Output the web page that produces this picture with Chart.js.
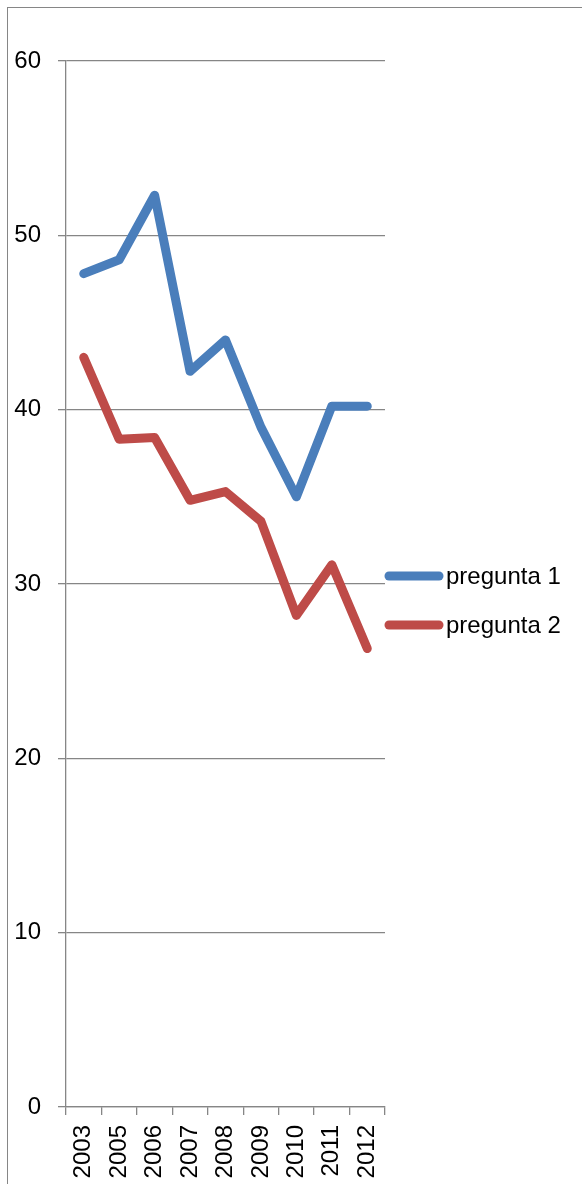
<!DOCTYPE html>
<html>
<head>
<meta charset="utf-8">
<script src="https://cdn.jsdelivr.net/npm/chart.js@4"></script>
<style>
  html, body { margin: 0; padding: 0; background: #fff; overflow: hidden; }
  #frame { position: absolute; left: 7px; top: 7px; width: 700px; height: 1300px; border: 1px solid #868686; }
  #wrap { position: absolute; left: 0; top: 0; width: 582px; height: 1184px; }
</style>
</head>
<body>
<div id="frame"></div>
<div id="wrap"><canvas id="chart"></canvas></div>
<script>
const years = ['2003', '2005', '2006', '2007', '2008', '2009', '2010', '2011', '2012'];
const pregunta1 = [47.8, 48.6, 52.3, 42.2, 44.0, 39.0, 35.0, 40.2, 40.2];
const pregunta2 = [43.0, 38.3, 38.4, 34.8, 35.3, 33.6, 28.2, 31.1, 26.3];
const seriesNames = ['pregunta 1', 'pregunta 2'];
const seriesColors = ['#4A7EBB', '#BE4B48'];

const fontFamily = '"Liberation Sans", Arial, sans-serif';
const gridColor = '#868686';

// legend drawn by hand to sit beside the plot like the original
const sideLegend = {
  id: 'sideLegend',
  afterDraw(chart) {
    const ctx = chart.ctx;
    const x0 = chart.chartArea.right + 4;
    ctx.save();
    chart.data.datasets.forEach((ds, i) => {
      const y = 576 + i * 49;
      ctx.strokeStyle = ds.borderColor;
      ctx.lineWidth = 9;
      ctx.lineCap = 'round';
      ctx.beginPath();
      ctx.moveTo(x0, y);
      ctx.lineTo(x0 + 50, y);
      ctx.stroke();
      ctx.fillStyle = '#000';
      ctx.font = '24px ' + fontFamily;
      ctx.textBaseline = 'middle';
      ctx.fillText(ds.label, x0 + 57, y + 1);
    });
    ctx.restore();
  }
};

new Chart(document.getElementById('chart'), {
  type: 'line',
  data: {
    labels: years,
    datasets: [
      { label: seriesNames[0], data: pregunta1, borderColor: seriesColors[0] },
      { label: seriesNames[1], data: pregunta2, borderColor: seriesColors[1] }
    ]
  },
  options: {
    responsive: true,
    maintainAspectRatio: false,
    animation: false,
    layout: { padding: { top: 61, right: 197, left: 0, bottom: 0 } },
    elements: {
      line: { borderWidth: 9, tension: 0, borderCapStyle: 'round', borderJoinStyle: 'round' },
      point: { radius: 0 }
    },
    plugins: {
      legend: { display: false },
      tooltip: { enabled: false }
    },
    scales: {
      x: {
        offset: true,
        grid: { offset: true, drawOnChartArea: false, drawTicks: true, tickLength: 8, color: gridColor, lineWidth: 1.3 },
        border: { display: true, color: gridColor, width: 1.3 },
        ticks: { minRotation: 90, maxRotation: 90, padding: 10, color: '#000', font: { family: fontFamily, size: 24 } },
        afterFit: (scale) => { scale.height = 77; }
      },
      y: {
        min: 0,
        max: 60,
        ticks: { stepSize: 10, padding: 17, color: '#000', font: { family: fontFamily, size: 24 } },
        grid: { color: gridColor, lineWidth: 1.3, tickLength: 8 },
        border: { display: true, color: gridColor, width: 1.3 },
        afterFit: (scale) => { scale.width = 66; }
      }
    }
  },
  plugins: [sideLegend]
});
</script>
</body>
</html>
